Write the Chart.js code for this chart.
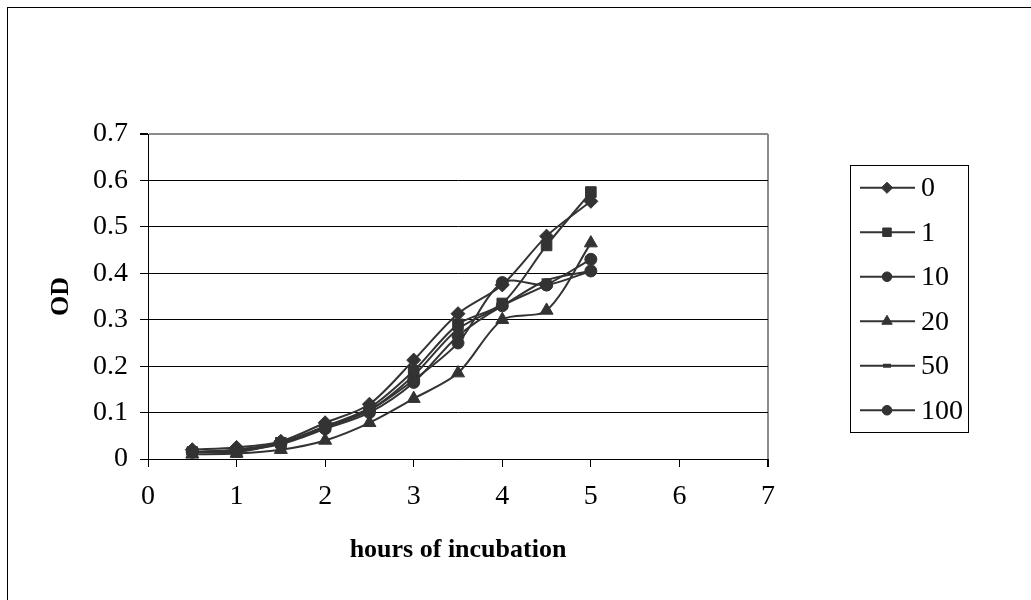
<!DOCTYPE html>
<html>
<head>
<meta charset="utf-8">
<script src="https://cdn.jsdelivr.net/npm/chart.js@4"></script>
<style>
  html, body { margin: 0; padding: 0; background: #fff; }
  #wrap { width: 1031px; height: 600px; }
</style>
</head>
<body>
<div id="wrap"><canvas id="od-chart" width="1031" height="600"></canvas></div>
<script>
const hours = [0.5, 1, 1.5, 2, 2.5, 3, 3.5, 4, 4.5, 5];

const series_0 = [0.02, 0.025, 0.038, 0.078, 0.118, 0.213, 0.313, 0.375, 0.48, 0.555];
const series_1 = [0.015, 0.015, 0.035, 0.07, 0.11, 0.19, 0.29, 0.335, 0.46, 0.575];
const series_10 = [0.015, 0.02, 0.035, 0.07, 0.105, 0.17, 0.25, 0.38, 0.375, 0.405];
const series_20 = [0.01, 0.012, 0.02, 0.04, 0.078, 0.13, 0.185, 0.3, 0.32, 0.465];
const series_50 = [0.015, 0.02, 0.035, 0.068, 0.105, 0.18, 0.28, 0.33, 0.385, 0.405];
const series_100 = [0.015, 0.018, 0.032, 0.065, 0.1, 0.165, 0.265, 0.33, 0.375, 0.43];

const seriesNames = ["0", "1", "10", "20", "50", "100"];
const xTicks = [0, 1, 2, 3, 4, 5, 6, 7];
const yTicks = [0, 0.1, 0.2, 0.3, 0.4, 0.5, 0.6, 0.7];

const ink = "#333333";
const fontFamily = "'Liberation Serif', 'Times New Roman', serif";

const toPoints = (vals) => vals.map((v, i) => ({ x: hours[i], y: v }));

// marker style per series, like the excel markers
const markers = [
  { style: "rectRot", radius: 7, border: 1 },
  { style: "rect", radius: 7.5, border: 1 },
  { style: "circle", radius: 6, border: 1 },
  { style: "triangle", radius: 7.5, border: 1 },
  { style: "line", radius: 5, border: 4 },
  { style: "circle", radius: 6, border: 1 },
];

const allSeries = [series_0, series_1, series_10, series_20, series_50, series_100];

const datasets = allSeries.map((vals, i) => ({
  label: seriesNames[i],
  data: toPoints(vals),
  borderColor: ink,
  backgroundColor: ink,
  borderWidth: 2,
  tension: 0.3,
  pointStyle: markers[i].style,
  pointRadius: markers[i].radius,
  pointBorderWidth: markers[i].border,
  pointBorderColor: ink,
  pointBackgroundColor: ink,
}));

// outer frame (only left + top edges visible in the picture)
const framePlugin = {
  id: "frame",
  beforeDraw(chart) {
    const ctx = chart.ctx;
    ctx.save();
    ctx.fillStyle = "#fff";
    ctx.fillRect(0, 0, chart.width, chart.height);
    ctx.strokeStyle = "#000";
    ctx.lineWidth = 1;
    ctx.strokeRect(7.5, 7.5, 1040, 620);
    ctx.restore();
  },
};

// boxed legend on the right: line segment with marker, then label
const legendPlugin = {
  id: "boxLegend",
  afterDraw(chart) {
    const ctx = chart.ctx;
    const box = { x: 850.5, y: 165.5, w: 118, h: 267 };
    ctx.save();
    ctx.strokeStyle = "#000";
    ctx.lineWidth = 1;
    ctx.strokeRect(box.x, box.y, box.w, box.h);
    const step = box.h / chart.data.datasets.length;
    chart.data.datasets.forEach((ds, i) => {
      const cy = box.y + step * (i + 0.5);
      ctx.strokeStyle = ink;
      ctx.lineWidth = 2;
      ctx.beginPath();
      ctx.moveTo(860, cy);
      ctx.lineTo(915, cy);
      ctx.stroke();
      ctx.fillStyle = ink;
      ctx.lineWidth = ds.pointBorderWidth;
      Chart.helpers.drawPoint(ctx, {
        pointStyle: ds.pointStyle,
        radius: ds.pointRadius * 0.8,
        rotation: 0,
        borderWidth: ds.pointBorderWidth,
      }, 887, cy);
      ctx.fillStyle = "#000";
      ctx.font = "28px " + fontFamily;
      ctx.textBaseline = "middle";
      ctx.textAlign = "left";
      ctx.fillText(ds.label, 921, cy + 1);
    });
    ctx.restore();
  },
};

const options = {
  responsive: false,
  animation: false,
  layout: { padding: { top: 134, right: 263, left: 0, bottom: 0 } },
  plugins: {
    legend: { display: false },
    tooltip: { enabled: false },
  },
  scales: {
    x: {
      type: "linear",
      min: 0,
      max: 7,
      afterBuildTicks: (scale) => { scale.ticks = xTicks.map((v) => ({ value: v })); },
      afterFit: (scale) => { scale.height = 141; },
      border: { color: "#000", width: 1 },
      grid: {
        drawOnChartArea: true,
        color: (c) => (c.tick && c.tick.value === 7 ? "#8c8c8c" : "rgba(0,0,0,0)"),
        lineWidth: (c) => (c.tick && c.tick.value === 7 ? 2 : 1),
        tickColor: "#000",
        tickLength: 8,
      },
      ticks: {
        color: "#000",
        padding: 13,
        maxRotation: 0,
        font: { family: fontFamily, size: 28 },
      },
      title: {
        display: true,
        text: "hours of incubation",
        color: "#000",
        font: { family: fontFamily, size: 26, weight: "bold" },
        padding: { top: 0, bottom: 34 },
      },
    },
    y: {
      min: 0,
      max: 0.7,
      afterBuildTicks: (scale) => { scale.ticks = yTicks.map((v) => ({ value: v })); },
      afterFit: (scale) => { scale.width = 148; },
      border: { color: "#000", width: 1 },
      grid: {
        color: (c) => (c.tick && Math.abs(c.tick.value - 0.7) < 1e-9 ? "#8c8c8c" : "#000"),
        lineWidth: (c) => (c.tick && Math.abs(c.tick.value - 0.7) < 1e-9 ? 2 : 1),
        tickColor: "#000",
        tickLength: 8,
      },
      ticks: {
        color: "#000",
        padding: 12,
        font: { family: fontFamily, size: 28 },
        callback: (v) => (v === 0 ? "0" : Number(v).toFixed(1)),
      },
      title: {
        display: true,
        text: "OD",
        color: "#000",
        font: { family: fontFamily, size: 26, weight: "bold" },
        padding: { top: 46, bottom: 0 },
      },
    },
  },
};

const ctx = document.getElementById("od-chart").getContext("2d");
const odChart = new Chart(ctx, {
  type: "line",
  data: { datasets: datasets },
  options: options,
  plugins: [framePlugin, legendPlugin],
});
</script>
</body>
</html>
